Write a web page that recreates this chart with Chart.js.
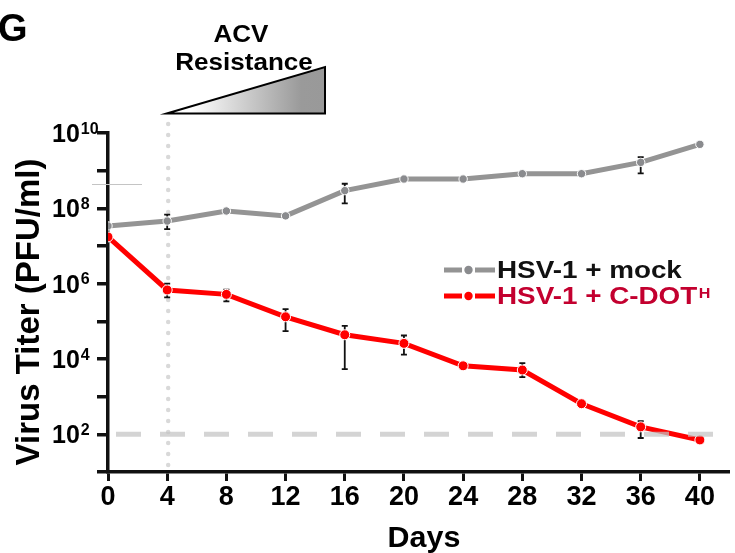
<!DOCTYPE html>
<html>
<head>
<meta charset="utf-8">
<script src="https://cdn.jsdelivr.net/npm/chart.js@4/dist/chart.umd.min.js"></script>
<style>
  html, body { margin: 0; padding: 0; background: #fff; }
  canvas { display: block; }
</style>
</head>
<body>
<canvas id="chart" width="735" height="553"></canvas>
<script>
// data (PFU/ml)
const days       = [0, 4, 8, 12, 16, 20, 24, 28, 32, 36, 40];
const mockTiter  = [3.4e7, 4.6e7, 8.5e7, 6.3e7, 2.95e8, 6.0e8, 6.0e8, 8.3e8, 8.3e8, 1.66e9, 5.0e9];
const mockLow    = [null, 2.8e7, null, null, 1.35e8, null, 5.3e8, null, null, 8.5e8, null];
const mockHigh   = [null, 6.8e7, null, null, 4.5e8, null, null, null, null, 2.3e9, null];
const cdotTiter  = [1.74e7, 6.8e5, 5.2e5, 1.32e5, 4.4e4, 2.6e4, 6.6e3, 5.1e3, 650, 158, 71];
const cdotLow    = [null, 4.3e5, 3.4e5, 5.5e4, 5.4e3, 1.3e4, null, 3.3e3, null, 80, null];
const cdotHigh   = [null, 1.0e6, 6.9e5, 2.1e5, 7.6e4, 4.2e4, null, 7.8e3, null, 224, null];
const yExponents      = [1, 2, 3, 4, 5, 6, 7, 8, 9, 10];
const yLabelExponents = [2, 4, 6, 8, 10];
const detectionLimit  = 100;
const acvDay          = 4;
const seriesNames     = ["HSV-1 + mock", "HSV-1 + C-DOT"];

// Colours
const GRAY_LINE = "#949494";
const GRAY_PT   = "#8a8b8e";
const RED       = "#ff0000";
const RED_TEXT  = "#c3002f";
const INK       = "#111111";
const FONT      = "'Liberation Sans', Arial, Helvetica, sans-serif";

Chart.defaults.font.family = FONT;

// some labels in the figure are set wider than the font, so stretch them a bit
function wideText(ctx, txt, x, y, font, color, sx, align) {
  ctx.save();
  ctx.font = font;
  ctx.fillStyle = color;
  ctx.textBaseline = "alphabetic";
  const w = ctx.measureText(txt).width * sx;
  let x0 = x;
  if (align === "center") x0 = x - w / 2;
  ctx.translate(x0, y);
  ctx.scale(sx, 1);
  ctx.textAlign = "left";
  ctx.fillText(txt, 0, 0);
  ctx.restore();
  return w;
}

const decorations = {
  id: "decorations",
  beforeDatasetsDraw(chart) {
    const { ctx, scales: { x, y } } = chart;
    // ACV start, dotted vertical
    const xv = x.getPixelForValue(acvDay) + 1;
    ctx.save();
    ctx.strokeStyle = "#d9d9d9";
    ctx.lineWidth = 4.5;
    ctx.lineCap = "round";
    ctx.setLineDash([0, 11]);
    ctx.beginPath();
    ctx.moveTo(xv, 124);
    ctx.lineTo(xv, y.bottom - 4);
    ctx.stroke();
    ctx.restore();

    // error bars
    const bars = [[mockLow, mockHigh], [cdotLow, cdotHigh]];
    ctx.save();
    ctx.strokeStyle = INK;
    ctx.lineWidth = 1.8;
    bars.forEach(([lo, hi]) => {
      days.forEach((d, i) => {
        if (lo[i] == null) return;
        const px = x.getPixelForValue(d);
        const yl = y.getPixelForValue(lo[i]);
        const yh = y.getPixelForValue(hi[i]);
        ctx.beginPath();
        ctx.moveTo(px, yl); ctx.lineTo(px, yh);
        ctx.moveTo(px - 3, yl); ctx.lineTo(px + 3, yl);
        ctx.moveTo(px - 3, yh); ctx.lineTo(px + 3, yh);
        ctx.stroke();
      });
    });
    ctx.restore();
  },
  afterDatasetsDraw(chart) {
    const { ctx, scales: { y } } = chart;
    // limit of detection
    const yd = y.getPixelForValue(detectionLimit);
    ctx.save();
    ctx.strokeStyle = "rgba(196,196,196,0.72)";
    ctx.lineWidth = 5;
    ctx.setLineDash([25, 19]);
    ctx.beginPath();
    ctx.moveTo(116, yd);
    ctx.lineTo(713, yd);
    ctx.stroke();
    ctx.restore();
  },
  afterDraw(chart) {
    const { ctx, scales: { x, y } } = chart;
    ctx.save();

    // y tick labels 10^n
    ctx.fillStyle = "#000";
    ctx.textAlign = "left";
    ctx.textBaseline = "alphabetic";
    yLabelExponents.forEach(e => {
      const py = y.getPixelForValue(Math.pow(10, e));
      ctx.font = "bold 25px " + FONT;
      ctx.fillText("10", 52, py + 9);
      const w = ctx.measureText("10").width;
      ctx.font = "bold 16px " + FONT;
      ctx.fillText(String(e), 52 + w + 1, py + 0.5);
    });

    // y axis title
    ctx.save();
    ctx.translate(38.5, 312);
    ctx.rotate(-Math.PI / 2);
    ctx.font = "bold 33px " + FONT;
    ctx.textAlign = "center";
    ctx.fillText("Virus Titer (PFU/ml)", 0, 0);
    ctx.restore();

    // x axis title
    wideText(ctx, "Days", 424, 547, "bold 29px " + FONT, "#000", 1.05, "center");

    // panel letter
    ctx.fillStyle = "#000";
    ctx.font = "bold 38px " + FONT;
    ctx.fillText("G", -2, 41);

    // stray hairline left of the axis
    ctx.strokeStyle = "#c4c4c4";
    ctx.lineWidth = 1;
    ctx.beginPath();
    ctx.moveTo(92, 184.5);
    ctx.lineTo(142, 184.5);
    ctx.stroke();

    // ACV resistance wedge
    const x0 = x.getPixelForValue(acvDay) - 0.5;
    const grad = ctx.createLinearGradient(x0, 0, 325, 0);
    grad.addColorStop(0.15, "#ffffff");
    grad.addColorStop(0.85, "#9a9a9a");
    grad.addColorStop(1, "#999999");
    ctx.beginPath();
    ctx.moveTo(x0, 113.5);
    ctx.lineTo(325, 67);
    ctx.lineTo(325, 113.5);
    ctx.closePath();
    ctx.fillStyle = grad;
    ctx.fill();
    ctx.strokeStyle = "#000";
    ctx.lineWidth = 2;
    ctx.stroke();

    wideText(ctx, "ACV", 241, 42, "bold 24px " + FONT, "#000", 1.085, "center");
    wideText(ctx, "Resistance", 244, 70, "bold 24px " + FONT, "#000", 1.085, "center");

    // legend
    const rows = [
      { y: 270, line: GRAY_LINE, dot: GRAY_PT, text: seriesNames[0], color: INK },
      { y: 296, line: RED, dot: RED, text: seriesNames[1], color: RED_TEXT, sup: "H" },
    ];
    rows.forEach(r => {
      ctx.strokeStyle = r.line;
      ctx.lineWidth = 5;
      ctx.beginPath();
      ctx.moveTo(444, r.y); ctx.lineTo(462, r.y);
      ctx.moveTo(475, r.y); ctx.lineTo(495, r.y);
      ctx.stroke();
      ctx.fillStyle = r.dot;
      ctx.beginPath();
      ctx.arc(468.5, r.y, 4.2, 0, Math.PI * 2);
      ctx.fill();
      const w = wideText(ctx, r.text, 497, r.y + 8, "bold 23px " + FONT, r.color, 1.21, "left");
      if (r.sup) {
        wideText(ctx, r.sup, 497 + w + 1.5, r.y + 1.5, "bold 14px " + FONT, r.color, 1.15, "left");
      }
    });

    ctx.restore();
  }
};

new Chart(document.getElementById("chart"), {
  type: "line",
  data: {
    labels: days,
    datasets: [
      {
        label: seriesNames[1],
        data: days.map((d, i) => ({ x: d, y: cdotTiter[i] })),
        borderColor: RED, backgroundColor: RED,
        pointBackgroundColor: RED, pointBorderColor: "#ffffff",
        borderWidth: 5, pointRadius: 5, pointBorderWidth: 1,
        tension: 0,
      },
      {
        label: seriesNames[0],
        data: days.map((d, i) => ({ x: d, y: mockTiter[i] })),
        borderColor: GRAY_LINE, backgroundColor: GRAY_PT,
        pointBackgroundColor: GRAY_PT, pointBorderColor: "#ffffff",
        borderWidth: 5, pointRadius: 4.2, pointBorderWidth: 1,
        tension: 0,
      },
    ]
  },
  options: {
    responsive: false,
    animation: false,
    devicePixelRatio: 1,
    layout: { padding: { left: 0, right: 7, top: 133, bottom: 0 } },
    plugins: {
      legend: { display: false },
      tooltip: { enabled: false },
    },
    scales: {
      x: {
        type: "linear",
        min: 0, max: 41.9,
        afterBuildTicks: s => { s.ticks = days.map(v => ({ value: v })); },
        afterFit: s => { s.height = 81; },
        ticks: { font: { size: 27, weight: "bold" }, color: "#000", padding: 0, autoSkip: false, maxRotation: 0 },
        grid: { drawOnChartArea: false, tickLength: 9, lineWidth: 3, color: INK },
        border: { width: 3.5, color: INK },
      },
      y: {
        type: "logarithmic",
        min: 10, max: 1e10,
        afterBuildTicks: s => { s.ticks = yExponents.map(e => ({ value: Math.pow(10, e) })); },
        afterFit: s => { s.width = 108; },
        ticks: { callback: () => "", autoSkip: false },
        grid: { drawOnChartArea: false, tickLength: 11, lineWidth: 3.5, color: INK },
        border: { width: 3.5, color: INK },
      }
    }
  },
  plugins: [decorations]
});
</script>
</body>
</html>
